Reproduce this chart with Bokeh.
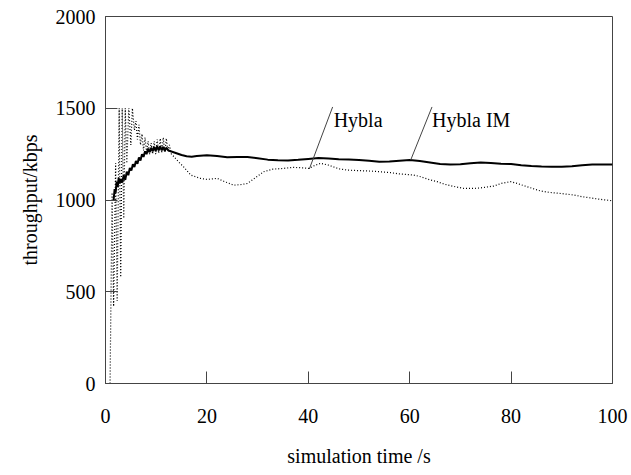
from bokeh.plotting import figure
from bokeh.models import Range1d, FixedTicker
from bokeh.core.properties import value
from bokeh.embed import file_html
from bokeh.resources import INLINE

# ---- data ----
t_im = [1.6, 1.8, 2.0, 2.2, 2.4, 2.6, 2.8, 3.0, 3.3, 3.6, 3.9, 4.2, 4.5, 4.8, 5.1, 5.4, 5.7, 6.0,
        6.3, 6.6, 6.9, 7.2, 7.5, 7.8, 8.1, 8.4, 8.7, 9.0, 9.3, 9.6, 9.9, 10.2, 10.5, 10.8, 11.1,
        11.4, 11.7, 12.0, 12.4, 13, 14, 15, 16, 17, 18, 20, 22, 24, 26, 28, 30, 32, 34, 36, 38,
        40, 42, 44, 46, 48, 50, 52, 54, 56, 58, 60, 62, 64, 66, 68, 70, 72, 74, 76, 78, 80, 82,
        84, 86, 88, 90, 92, 94, 96, 98, 100]
v_im = [1000, 1060, 1040, 1100, 1070, 1120, 1090, 1115, 1095, 1135, 1110, 1155, 1135, 1175, 1160,
        1195, 1180, 1212, 1198, 1232, 1215, 1250, 1235, 1265, 1250, 1280, 1260, 1285, 1265, 1290,
        1268, 1292, 1270, 1292, 1270, 1290, 1268, 1285, 1270, 1264, 1255, 1245, 1238, 1236, 1240,
        1244, 1240, 1233, 1235, 1234, 1228, 1220, 1216, 1215, 1219, 1224, 1229, 1226, 1222, 1221,
        1218, 1214, 1209, 1210, 1214, 1218, 1212, 1204, 1196, 1193, 1195, 1200, 1204, 1201, 1198,
        1196, 1190, 1185, 1182, 1181, 1181, 1184, 1190, 1194, 1194, 1194]

t_h = [0.9, 1.3, 1.6, 2.0, 2.3, 2.7, 3.0, 3.3, 3.6, 3.9, 4.2, 4.6, 5.0, 5.3, 5.7, 6.0, 6.3, 6.6,
       6.9, 7.2, 7.5, 7.8, 8.1, 8.4, 8.7, 9.0, 9.3, 9.6, 9.9, 10.2, 10.5, 10.8, 11.1, 11.4, 11.7,
       12.0, 12.3, 12.6, 13.0, 13.5, 14.5, 15.4, 16.8, 18.7, 20, 22, 23.5, 25.3, 27, 28, 29.5,
       31.2, 33, 35, 37, 39, 40.1, 41, 42.4, 44, 46, 47.7, 50, 52, 54.2, 56, 58, 60.8, 62, 64,
       65.4, 67, 69, 70.7, 72.6, 74, 76.6, 78, 79.9, 81, 83.2, 85.8, 88, 90, 92.4, 94, 96, 98, 100]
v_h = [0, 1040, 420, 1200, 450, 1500, 580, 1500, 900, 1500, 1200, 1500, 1300, 1500, 1380, 1430,
       1330, 1410, 1300, 1360, 1270, 1340, 1260, 1320, 1250, 1310, 1250, 1320, 1250, 1330, 1255,
       1335, 1255, 1340, 1260, 1336, 1265, 1300, 1250, 1236, 1205, 1181, 1136, 1118, 1112, 1118,
       1100, 1081, 1085, 1090, 1120, 1154, 1168, 1172, 1178, 1175, 1172, 1185, 1200, 1190, 1170,
       1163, 1160, 1158, 1154, 1150, 1142, 1136, 1128, 1110, 1100, 1085, 1072, 1063, 1063, 1066,
       1076, 1090, 1100, 1092, 1072, 1049, 1040, 1035, 1027, 1018, 1010, 1002, 996]

x_ticks = [0, 20, 40, 60, 80, 100]
y_ticks = [0, 500, 1000, 1500, 2000]

label_text = ["Hybla", "Hybla IM"]
label_x = [45.0, 64.4]
label_y = [1436, 1436]
leader_x0 = [44.8, 64.4]
leader_y0 = [1507, 1507]
leader_x1 = [40.2, 60.2]
leader_y1 = [1169, 1218]

FONT = "Liberation Serif"

p = figure(width=631, height=475, output_backend="svg", toolbar_location=None,
           x_range=Range1d(0, 100), y_range=Range1d(0, 2000),
           min_border_left=105, min_border_right=19, min_border_top=16, min_border_bottom=92)

p.background_fill_color = "white"
p.border_fill_color = "white"
p.outline_line_color = "#444444"
p.outline_line_width = 1
p.grid.visible = False

p.line(t_h, v_h, line_color="black", line_width=1.2, line_dash="1 2")
p.line(t_im, v_im, line_color="black", line_width=2)

p.segment(x0=leader_x0, y0=leader_y0, x1=leader_x1, y1=leader_y1,
          line_color="#444444", line_width=1)
p.text(x=label_x, y=label_y, text=label_text, text_font=value(FONT),
       text_font_size="20px", text_align="left", text_baseline="alphabetic",
       text_color="black")

for ax in (p.xaxis[0], p.yaxis[0]):
    ax.axis_line_color = "#444444"
    ax.major_tick_line_color = "#444444"
    ax.major_tick_in = 12
    ax.major_tick_out = 0
    ax.minor_tick_line_color = None
    ax.major_label_text_font = FONT
    ax.major_label_text_font_size = "20px"
    ax.major_label_text_color = "black"
    ax.axis_label_text_font = FONT
    ax.axis_label_text_font_size = "20px"
    ax.axis_label_text_font_style = "normal"
    ax.axis_label_text_color = "black"

p.xaxis[0].ticker = FixedTicker(ticks=x_ticks)
p.yaxis[0].ticker = FixedTicker(ticks=y_ticks)
p.xaxis[0].axis_label = "simulation time /s"
p.yaxis[0].axis_label = "throughput/kbps"
p.xaxis[0].major_label_standoff = 25
p.xaxis[0].axis_label_standoff = 19
p.yaxis[0].major_label_standoff = 10
p.yaxis[0].axis_label_standoff = 12

open("out.html", "w").write(file_html(p, INLINE))
